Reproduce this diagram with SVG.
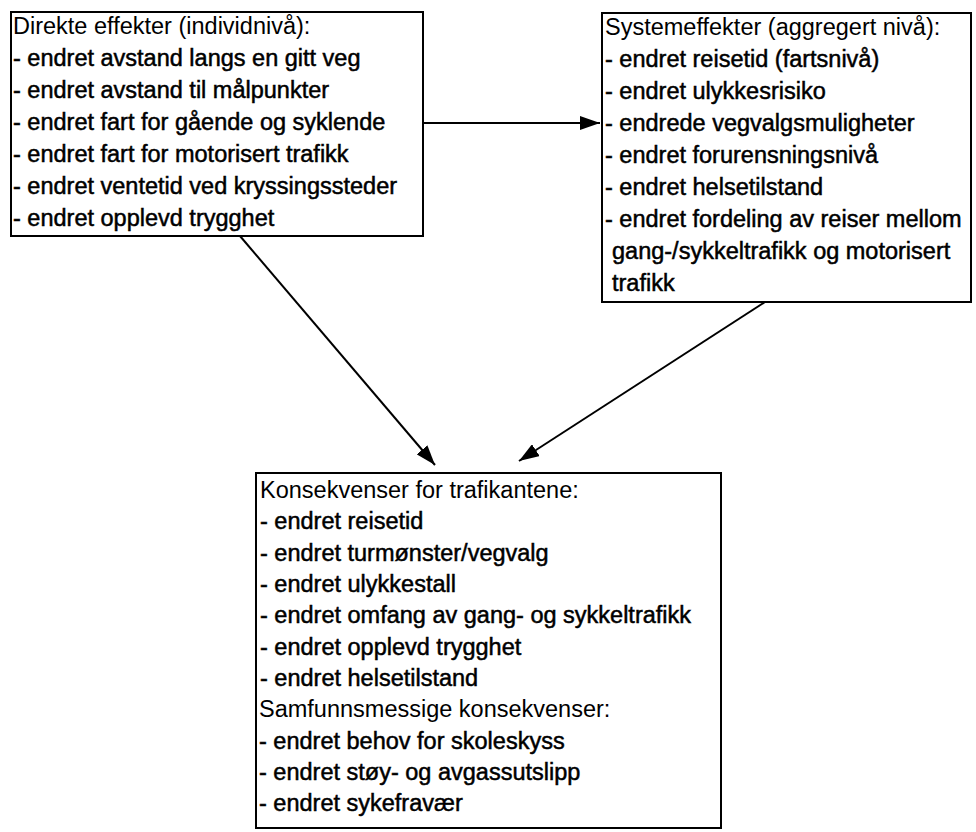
<svg xmlns="http://www.w3.org/2000/svg" width="976" height="832" viewBox="0 0 976 832">
<defs>
<style>
.box{fill:#fff;stroke:#000;stroke-width:2}
.t{font-family:"Liberation Sans",Arial,sans-serif;font-size:23.5px;fill:#000}
.i{stroke:#000;stroke-width:0.5}
.c{stroke:#000;stroke-width:2;fill:none}
</style>
<marker id="ah" viewBox="0 0 20 14" refX="20" refY="7" markerWidth="20" markerHeight="14" markerUnits="userSpaceOnUse" orient="auto">
<path d="M0,0 L20,7 L0,14 Z" fill="#000"/>
</marker>
</defs>
<rect width="976" height="832" fill="#fff"/>
<g id="connectors">
<line class="c" x1="423" y1="123" x2="600" y2="123" marker-end="url(#ah)"/>
<line class="c" x1="240" y1="236" x2="435" y2="465" marker-end="url(#ah)"/>
<line class="c" x1="765" y1="302" x2="519" y2="461" marker-end="url(#ah)"/>
</g>
<g id="direkte">
<rect class="box" x="11" y="12" width="412" height="224"/>
<text class="t" x="13" y="34">Direkte effekter (individnivå):</text>
<text class="t i" x="13" y="66">- endret avstand langs en gitt veg</text>
<text class="t i" x="13" y="98">- endret avstand til målpunkter</text>
<text class="t i" x="13" y="130">- endret fart for gående og syklende</text>
<text class="t i" x="13" y="162">- endret fart for motorisert trafikk</text>
<text class="t i" x="13" y="194">- endret ventetid ved kryssingssteder</text>
<text class="t i" x="13" y="226">- endret opplevd trygghet</text>
</g>
<g id="system">
<rect class="box" x="602" y="13" width="369" height="289"/>
<text class="t" x="605" y="35">Systemeffekter (aggregert nivå):</text>
<text class="t i" x="605" y="67">- endret reisetid (fartsnivå)</text>
<text class="t i" x="605" y="99">- endret ulykkesrisiko</text>
<text class="t i" x="605" y="131">- endrede vegvalgsmuligheter</text>
<text class="t i" x="605" y="163">- endret forurensningsnivå</text>
<text class="t i" x="605" y="195">- endret helsetilstand</text>
<text class="t i" x="605" y="227">- endret fordeling av reiser mellom</text>
<text class="t i" x="612" y="259">gang-/sykkeltrafikk og motorisert</text>
<text class="t i" x="612" y="291">trafikk</text>
</g>
<g id="konsekvenser">
<rect class="box" x="256" y="473" width="465" height="355"/>
<text class="t" x="260" y="498">Konsekvenser for trafikantene:</text>
<text class="t i" x="260" y="529">- endret reisetid</text>
<text class="t i" x="260" y="561">- endret turmønster/vegvalg</text>
<text class="t i" x="260" y="592">- endret ulykkestall</text>
<text class="t i" x="260" y="623">- endret omfang av gang- og sykkeltrafikk</text>
<text class="t i" x="260" y="655">- endret opplevd trygghet</text>
<text class="t i" x="260" y="686">- endret helsetilstand</text>
<text class="t" x="259" y="717">Samfunnsmessige konsekvenser:</text>
<text class="t i" x="259" y="749">- endret behov for skoleskyss</text>
<text class="t i" x="259" y="780">- endret støy- og avgassutslipp</text>
<text class="t i" x="259" y="811">- endret sykefravær</text>
</g>
</svg>
